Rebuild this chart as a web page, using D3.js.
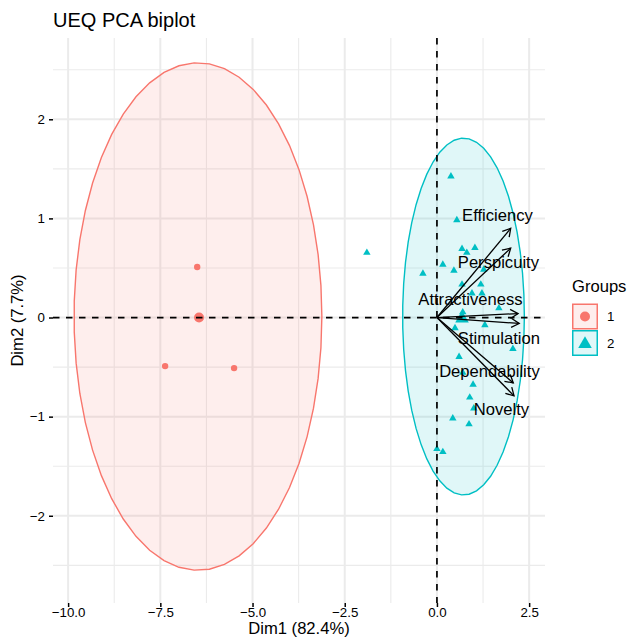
<!DOCTYPE html>
<html>
<head>
<meta charset="utf-8">
<script src="https://cdn.jsdelivr.net/npm/d3@7"></script>
<style>
  html, body { margin: 0; padding: 0; background: #fff; }
  svg { display: block; font-family: "Liberation Sans", Arial, Helvetica, sans-serif; }
</style>
</head>
<body>
<svg id="chart" width="627" height="638"></svg>
<script>
// ---- data ---------------------------------------------------------------
const chartTitle = "UEQ PCA biplot";
const xAxisTitle = "Dim1 (82.4%)";
const yAxisTitle = "Dim2 (7.7%)";

const xTickValues = [-10, -7.5, -5, -2.5, 0, 2.5];
const xTickLabels = ["\u221210.0", "\u22127.5", "\u22125.0", "\u22122.5", "0.0", "2.5"];
const yTickValues = [-2, -1, 0, 1, 2];
const yTickLabels = ["\u22122", "\u22121", "0", "1", "2"];

const groupNames = ["1", "2"];
const groupColors = ["#F8766D", "#00BFC4"];

// individuals, group 1 (Dim1, Dim2)
const group1X = [-6.50, -7.37, -5.50];
const group1Y = [0.51, -0.49, -0.51];
// individuals, group 2 (Dim1, Dim2)
const group2X = [-1.90, -0.38, 0.38, 0.54, 0.68, 0.81, 1.03, 0.16, 0.46, 1.27, 0.68, 1.19, 0.95, 1.22,
                 0.70, 1.68, 1.30, 0.49, 2.06, 0.60, 0.70, 0.98, 0.89, 1.00, 0.43, 0.87, 0.00, 0.16];
const group2Y = [0.66, 0.45, 1.43, 0.99, 0.70, 0.66, 0.71, 0.54, 0.48, 0.49, 0.34, 0.34, 0.25, 0.25,
                 0.06, 0.10, -0.07, -0.10, -0.31, -0.39, -0.55, -0.67, -0.80, -0.91, -1.01, -1.07, -1.32, -1.35];

// group mean points
const meanX = [-6.45, 0.68];
const meanY = [0.00, 0.00];

// concentration ellipses: centre and semi-axes in Dim units
const ellipseCX = [-6.48, 0.72];
const ellipseCY = [0.01, 0.01];
const ellipseRX = [3.36, 1.65];
const ellipseRY = [2.56, 1.80];

// variables (arrow tips) and their label anchors
const varNames = ["Efficiency", "Perspicuity", "Attractiveness", "Stimulation", "Dependability", "Novelty"];
const varX = [2.00, 2.00, 2.20, 2.23, 2.07, 2.09];
const varY = [0.90, 0.70, 0.04, -0.06, -0.66, -0.79];
const labelX = [1.64, 1.667, 0.908, 1.68, 1.423, 1.748];
const labelY = [1.03, 0.556, 0.186, -0.207, -0.542, -0.922];

// ---- layout -------------------------------------------------------------
const panel = { left: 53, right: 545, top: 38, bottom: 603 };
const xDomain = [-10.41, 2.93];
const yDomain = [-2.88, 2.82];

const svg = d3.select("#chart");
const x = d3.scaleLinear().domain(xDomain).range([panel.left, panel.right]);
const y = d3.scaleLinear().domain(yDomain).range([panel.bottom, panel.top]);

// ---- grid ---------------------------------------------------------------
const grid = svg.append("g");
const xMinor = [-8.75, -6.25, -3.75, -1.25, 1.25];
const yMinor = [-2.5, -1.5, -0.5, 0.5, 1.5, 2.5];
grid.selectAll(".xminor").data(xMinor).join("line")
  .attr("x1", d => x(d)).attr("x2", d => x(d))
  .attr("y1", panel.top).attr("y2", panel.bottom)
  .attr("stroke", "#EBEBEB").attr("stroke-width", 1.1);
grid.selectAll(".yminor").data(yMinor).join("line")
  .attr("y1", d => y(d)).attr("y2", d => y(d))
  .attr("x1", panel.left).attr("x2", panel.right)
  .attr("stroke", "#EBEBEB").attr("stroke-width", 1.1);
grid.selectAll(".xmajor").data(xTickValues).join("line")
  .attr("x1", d => x(d)).attr("x2", d => x(d))
  .attr("y1", panel.top).attr("y2", panel.bottom)
  .attr("stroke", "#EBEBEB").attr("stroke-width", 2);
grid.selectAll(".ymajor").data(yTickValues).join("line")
  .attr("y1", d => y(d)).attr("y2", d => y(d))
  .attr("x1", panel.left).attr("x2", panel.right)
  .attr("stroke", "#EBEBEB").attr("stroke-width", 2);

// ---- ellipses -----------------------------------------------------------
const nSeg = 51;
const ellipseLine = d3.line().x(d => x(d[0])).y(d => y(d[1]));
groupNames.forEach((g, i) => {
  const pts = d3.range(nSeg + 1).map(k => {
    const t = (k / nSeg) * 2 * Math.PI;
    return [ellipseCX[i] + ellipseRX[i] * Math.cos(t), ellipseCY[i] + ellipseRY[i] * Math.sin(t)];
  });
  svg.append("path")
    .attr("d", ellipseLine(pts) + "Z")
    .attr("fill", groupColors[i]).attr("fill-opacity", 0.12)
    .attr("stroke", groupColors[i]).attr("stroke-width", 1.4);
});

// ---- individuals --------------------------------------------------------
const g1 = group1X.map((v, i) => [v, group1Y[i]]);
const g2 = group2X.map((v, i) => [v, group2Y[i]]);

svg.append("g").selectAll("circle").data(g1).join("circle")
  .attr("cx", d => x(d[0])).attr("cy", d => y(d[1])).attr("r", 3.2)
  .attr("fill", groupColors[0]);

const triSmall = d3.symbol().type(d3.symbolTriangle).size(24);
const triBig = d3.symbol().type(d3.symbolTriangle).size(80);
svg.append("g").selectAll("path").data(g2).join("path")
  .attr("transform", d => `translate(${x(d[0])},${y(d[1]) + 0.6})`)
  .attr("d", triSmall())
  .attr("fill", groupColors[1]);

// group means
svg.append("circle")
  .attr("cx", x(meanX[0])).attr("cy", y(meanY[0])).attr("r", 5)
  .attr("fill", groupColors[0]);
svg.append("path")
  .attr("transform", `translate(${x(meanX[1])},${y(meanY[1]) + 1})`)
  .attr("d", triBig())
  .attr("fill", groupColors[1]);

// ---- reference lines at the origin --------------------------------------
svg.append("line")
  .attr("x1", panel.left).attr("x2", panel.right)
  .attr("y1", y(0)).attr("y2", y(0))
  .attr("stroke", "#000").attr("stroke-width", 1.7).attr("stroke-dasharray", "6.5,6.5");
svg.append("line")
  .attr("x1", x(0)).attr("x2", x(0))
  .attr("y1", panel.top).attr("y2", panel.bottom)
  .attr("stroke", "#000").attr("stroke-width", 1.7).attr("stroke-dasharray", "6.5,6.5");

// ---- variable arrows ----------------------------------------------------
const arrows = svg.append("g");
const headLen = 9, headAng = Math.PI / 6;
varNames.forEach((name, i) => {
  const x0 = x(0), y0 = y(0), x1 = x(varX[i]), y1 = y(varY[i]);
  const a = Math.atan2(y1 - y0, x1 - x0);
  arrows.append("line")
    .attr("x1", x0).attr("y1", y0).attr("x2", x1).attr("y2", y1)
    .attr("stroke", "#000").attr("stroke-width", 1.3);
  const p1 = [x1 - headLen * Math.cos(a - headAng), y1 - headLen * Math.sin(a - headAng)];
  const p2 = [x1 - headLen * Math.cos(a + headAng), y1 - headLen * Math.sin(a + headAng)];
  arrows.append("path")
    .attr("d", `M${p1[0]},${p1[1]}L${x1},${y1}L${p2[0]},${p2[1]}`)
    .attr("fill", "none").attr("stroke", "#000").attr("stroke-width", 1.3)
    .attr("stroke-linejoin", "miter");
});
arrows.selectAll("text").data(varNames).join("text")
  .attr("x", (d, i) => x(labelX[i])).attr("y", (d, i) => y(labelY[i]))
  .attr("dy", "0.36em")
  .attr("text-anchor", "middle")
  .attr("font-size", 16.6).attr("fill", "#000")
  .text(d => d);

// ---- axes ---------------------------------------------------------------
const xAxis = d3.axisBottom(x).tickValues(xTickValues)
  .tickFormat((d, i) => xTickLabels[i]).tickSize(4).tickPadding(1);
const yAxis = d3.axisLeft(y).tickValues(yTickValues)
  .tickFormat((d, i) => yTickLabels[i]).tickSize(4).tickPadding(4);

const gx = svg.append("g").attr("transform", `translate(0,${panel.bottom})`).call(xAxis);
const gy = svg.append("g").attr("transform", `translate(${panel.left},0)`).call(yAxis);
[gx, gy].forEach(g => {
  g.select(".domain").remove();
  g.selectAll(".tick line").attr("stroke", "#000").attr("stroke-width", 1.5);
  g.selectAll(".tick text").attr("fill", "#000").attr("font-size", 13.3)
    .attr("font-family", "Liberation Sans, Arial, Helvetica, sans-serif");
});

// ---- titles -------------------------------------------------------------
svg.append("text")
  .attr("x", panel.left).attr("y", 26.5)
  .attr("font-size", 20).attr("fill", "#000")
  .text(chartTitle);
svg.append("text")
  .attr("x", (panel.left + panel.right) / 2).attr("y", 634)
  .attr("text-anchor", "middle").attr("font-size", 16.6).attr("fill", "#000")
  .text(xAxisTitle);
svg.append("text")
  .attr("transform", `translate(23,${(panel.top + panel.bottom) / 2}) rotate(-90)`)
  .attr("text-anchor", "middle").attr("font-size", 16.6).attr("fill", "#000")
  .text(yAxisTitle);

// ---- legend -------------------------------------------------------------
const legend = svg.append("g").attr("transform", "translate(572,0)");
legend.append("text")
  .attr("x", 0).attr("y", 292)
  .attr("font-size", 16.6).attr("fill", "#000")
  .text("Groups");
groupNames.forEach((g, i) => {
  const top = 303.5 + i * 26.5;
  legend.append("rect")
    .attr("x", 0.75).attr("y", top + 0.75).attr("width", 24.5).attr("height", 24.5)
    .attr("fill", groupColors[i]).attr("fill-opacity", 0.12)
    .attr("stroke", groupColors[i]).attr("stroke-width", 1.5);
  if (i === 0) {
    legend.append("circle").attr("cx", 13).attr("cy", top + 13).attr("r", 5)
      .attr("fill", groupColors[i]);
  } else {
    legend.append("path")
      .attr("transform", `translate(13,${top + 14})`)
      .attr("d", triBig()).attr("fill", groupColors[i]);
  }
  legend.append("text")
    .attr("x", 35).attr("y", top + 13).attr("dy", "0.36em")
    .attr("font-size", 13.3).attr("fill", "#000")
    .text(g);
});
</script>
</body>
</html>
